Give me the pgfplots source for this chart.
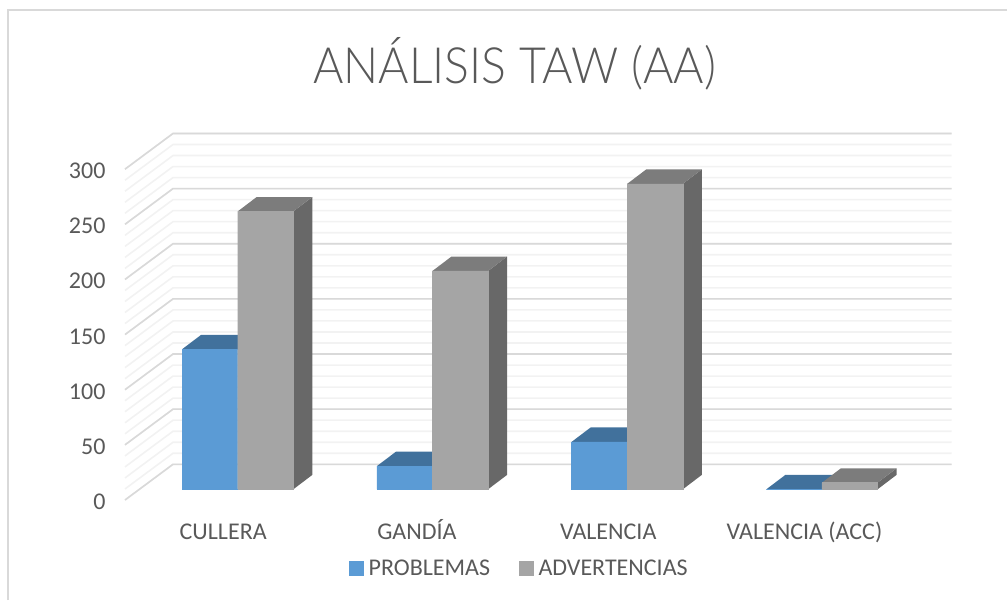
\documentclass[border=0pt]{standalone}
\usepackage{pgfplots}
\pgfplotsset{compat=1.18}
\usepackage{fontspec}
\setmainfont{Carlito}
\newfontfamily\lightfont[FakeStretch=0.928]{Lato Light}
\definecolor{txt}{HTML}{595959}
\definecolor{blueF}{HTML}{5B9BD5}
\definecolor{blueT}{HTML}{41719C}
\definecolor{blueS}{HTML}{3A6A95}
\definecolor{grayF}{HTML}{A5A5A5}
\definecolor{grayT}{HTML}{7C7C7C}
\definecolor{grayS}{HTML}{686868}
\definecolor{gmaj}{HTML}{D9D9D9}
\definecolor{gmin}{HTML}{F2F2F2}
\pgfmathsetmacro{\wid}{55.6/194.75}
\pgfmathsetmacro{\ddx}{19/194.75}
\pgfmathsetmacro{\ddy}{14.4/1.1027}
\newcommand{\faces}[5]{%
  \pgfmathsetmacro{\xa}{#2+#1*\wid}%
  \pgfmathsetmacro{\xb}{\xa+\wid}%
  \pgfmathsetmacro{\xc}{\xa+\ddx}%
  \pgfmathsetmacro{\xd}{\xb+\ddx}%
  \pgfmathsetmacro{\yt}{#3+\ddy}%
  \addplot[forget plot,fill=#5,draw=none] coordinates {(\xb,0) (\xd,\ddy) (\xd,\yt) (\xb,#3)};
  \addplot[forget plot,fill=#4,draw=none] coordinates {(\xa,#3) (\xc,\yt) (\xd,\yt) (\xb,#3)};
}
\begin{document}
\begin{tikzpicture}[x=1pt,y=1pt]
\path[use as bounding box] (0,0) rectangle (1007,600);
\draw[gmaj,line width=2pt] (7.5,0) -- (7.5,589.5) -- (1007,589.5);
\node[text=txt,font=\lightfont\fontsize{50}{50}\selectfont,anchor=center] at (514.5,536.5) {ANÁLISIS TAW (AA)};
\begin{axis}[
  at={(125pt,100pt)},anchor=south west,
  scale only axis,width=826.7pt,height=367pt,
  xmin=-0.5787,xmax=3.6662,ymin=-9.7,ymax=323.1,
  clip=false,
  axis line style={draw=none},
  tick style={draw=none},
  xtick={0,1,2,3},
  xticklabels={\kern2ptCULLERA,GANDÍA,\hspace*{-7pt}VALENCIA,\hspace*{-4pt}VALENCIA (ACC)},
  ytick={0,50,...,300},
  /pgf/number format/assume math mode=true,
  ticklabel style={text=txt,font=\fontsize{24}{24}\selectfont},
  xticklabel style={anchor=base,xshift=-15.5pt,yshift=-39pt},
  yticklabel style={yshift=-12.5pt,xshift=-16pt},
  legend style={draw=none,fill=none,at={(394.5pt,-68pt)},anchor=center,
    legend columns=2,font=\fontsize{24}{24}\selectfont,text=txt,
    /tikz/column 2/.style={column sep=27pt}},
  legend cell align=left,
]
\pgfplotsinvokeforeach{0,10,...,300}{
  \draw[gmin,line width=1.6pt] (axis cs:-0.5787,#1-9.7) -- (axis cs:-0.3322,#1+22.67) -- (axis cs:3.6662,#1+22.67);
}
\pgfplotsinvokeforeach{0,50,...,300}{
  \draw[gmaj,line width=1.6pt] (axis cs:-0.5787,#1-9.7) -- (axis cs:-0.3322,#1+22.67) -- (axis cs:3.6662,#1+22.67);
}
\faces{-1}{0}{127}{blueT}{blueS}
\faces{-1}{1}{21}{blueT}{blueS}
\faces{-1}{2}{43}{blueT}{blueS}
\faces{-1}{3}{0}{blueT}{blueS}
\addplot[ybar,bar width=55.6pt,bar shift=-27.8pt,fill=blueF,draw=blueF,line width=0.4pt,
  legend image code/.code={\fill[blueF] (0pt,-7pt) rectangle (14pt,7pt);\path (17pt,0pt);}]
  coordinates {(0,127) (1,21) (2,43) (3,0)};
\addlegendentry{PROBLEMAS}
\faces{0}{0}{252}{grayT}{grayS}
\faces{0}{1}{198}{grayT}{grayS}
\faces{0}{2}{277}{grayT}{grayS}
\faces{0}{3}{6}{grayT}{grayS}
\addplot[ybar,bar width=55.6pt,bar shift=27.8pt,fill=grayF,draw=grayF,line width=0.4pt,
  legend image code/.code={\fill[grayF] (0pt,-7pt) rectangle (14pt,7pt);\path (17pt,0pt);}]
  coordinates {(0,252) (1,198) (2,277) (3,6)};
\addlegendentry{ADVERTENCIAS}
\end{axis}
\end{tikzpicture}
\end{document}
